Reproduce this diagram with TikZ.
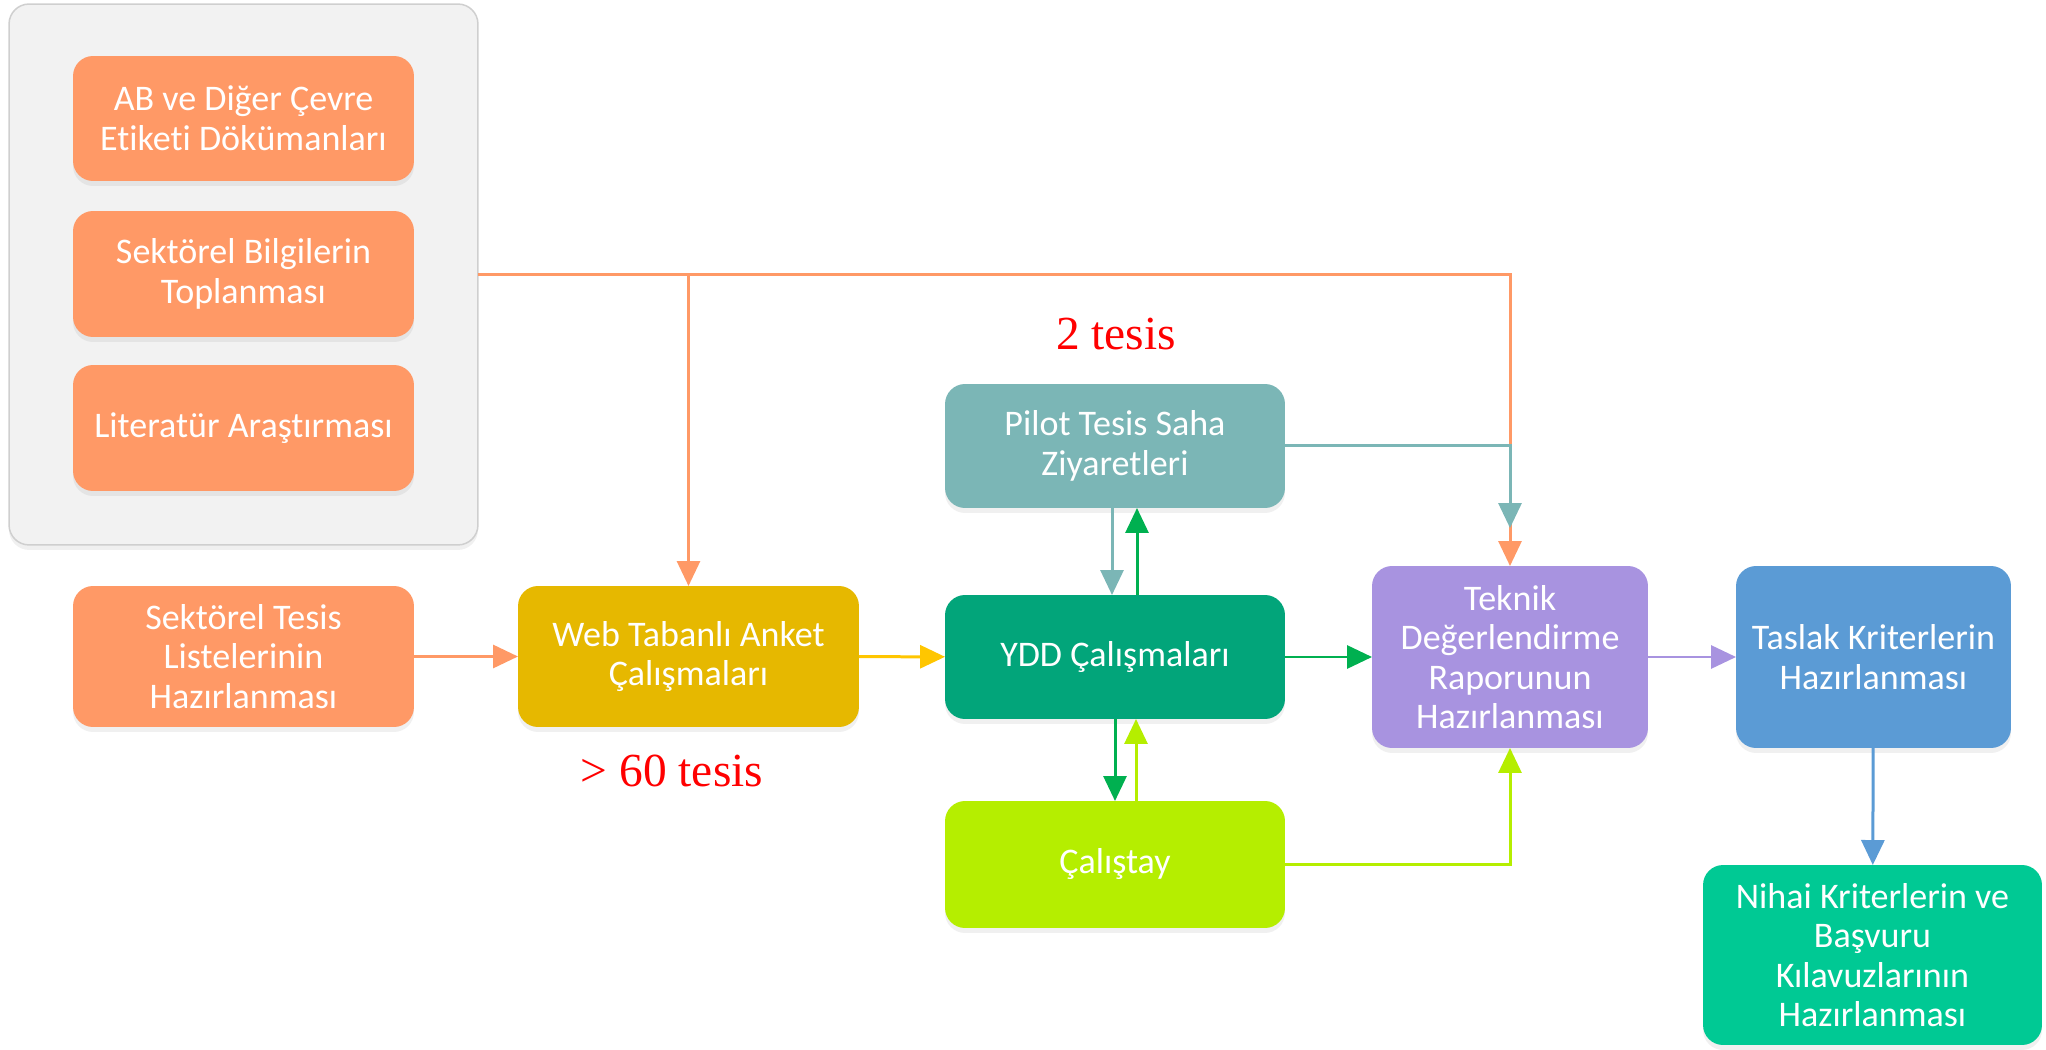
\documentclass[tikz,border=0pt]{standalone}
\usepackage{fontspec}
\setmainfont{Carlito}[Ligatures=NoCommon]
\newfontfamily\notefont{Liberation Serif}
\usetikzlibrary{arrows.meta,calc,shadows}
\definecolor{Panel}{HTML}{F2F2F2}
\definecolor{PanelEdge}{HTML}{CFCFCF}
\definecolor{Peach}{HTML}{FF9966}
\definecolor{Gold}{HTML}{E6B800}
\definecolor{Amber}{HTML}{FFC600}
\definecolor{Teal}{HTML}{7BB6B6}
\definecolor{Jade}{HTML}{02A57A}
\definecolor{Leaf}{HTML}{00B050}
\definecolor{Lime}{HTML}{B5EE00}
\definecolor{Lavender}{HTML}{A893E0}
\definecolor{Sky}{HTML}{5B9BD5}
\definecolor{Mint}{HTML}{00C994}

\begin{document}
\begin{tikzpicture}[x=0.02cm,y=-0.02cm,
    task/.style={rounded corners=0.4cm, text=white, align=center, inner sep=0pt, outer sep=0pt,
      font=\fontsize{20.5}{22.5}\selectfont,
      drop shadow={shadow xshift=0pt,shadow yshift=-0.1cm,opacity=0.12}},
    link/.style={line width=0.06cm, -{Triangle[width=0.46cm,length=0.5cm]}},
    note/.style={text=red, font=\notefont\fontsize{27}{30}\selectfont}]
  \useasboundingbox (0,0) rectangle (2046,1050);

  % grey panel with the three source tasks
  \node[fill=Panel, draw=PanelEdge, line width=0.03cm, rounded corners=0.4cm, outer sep=0pt,
    minimum width=9.38cm, minimum height=10.82cm,
    drop shadow={shadow xshift=0pt,shadow yshift=-0.1cm,opacity=0.12}] (cont) at (243.5,274.5) {};
  \node[task, fill=Peach, minimum width=6.82cm, minimum height=2.5cm] (ab) at (243.5,118.5)
    {AB ve Diğer Çevre\\Etiketi Dökümanları};
  \node[task, fill=Peach, minimum width=6.82cm, minimum height=2.52cm] (bilgi) at (243.5,274)
    {Sektörel Bilgilerin\\Toplanması};
  \node[task, fill=Peach, minimum width=6.82cm, minimum height=2.52cm] (lit) at (243.5,428)
    {Literatür Araştırması};

  % main row
  \node[task, fill=Peach, minimum width=6.82cm, minimum height=2.82cm] (liste) at (243.5,656.5)
    {Sektörel Tesis\\Listelerinin\\Hazırlanması};
  \node[task, fill=Gold, minimum width=6.82cm, minimum height=2.82cm] (web) at (688.5,656.5)
    {Web Tabanlı Anket\\Çalışmaları};
  \node[task, fill=Teal, minimum width=6.8cm, minimum height=2.48cm] (pilot) at (1115,446)
    {Pilot Tesis Saha\\Ziyaretleri};
  \node[task, fill=Jade, minimum width=6.8cm, minimum height=2.48cm] (ydd) at (1115,657)
    {YDD Çalışmaları};
  \node[task, fill=Lime, minimum width=6.8cm, minimum height=2.54cm] (calis) at (1115,864.5)
    {Çalıştay};
  \node[task, fill=Lavender, minimum width=5.52cm, minimum height=3.64cm] (teknik) at (1510,657)
    {Teknik\\Değerlendirme\\Raporunun\\Hazırlanması};
  \node[task, fill=Sky, minimum width=5.5cm, minimum height=3.64cm] (taslak) at (1873.5,657)
    {Taslak Kriterlerin\\Hazırlanması};
  \node[task, fill=Mint, minimum width=6.78cm, minimum height=3.6cm] (nihai) at (1872.5,955)
    {Nihai Kriterlerin ve\\Başvuru\\Kılavuzlarının\\Hazırlanması};

  % facility counts
  \node[note] (pilotnum) at (1116,334) {2 tesis};
  \node[note] (webnum) at (672,771) {\textgreater{} 60 tesis};

  % connectors
  \draw[link, Peach] (cont.east) -| (teknik.north);
  \draw[link, Peach] (web.north |- cont.east) -- (web.north);
  \draw[link, Teal, shorten >=0.76cm] (pilot.east) -| (teknik.north);
  \draw[link, Teal] ([xshift=-0.06cm]pilot.south) -- ([xshift=-0.06cm]ydd.north);
  \draw[link, Leaf] ([xshift=0.44cm]ydd.north) -- ([xshift=0.44cm]pilot.south);
  \draw[link, Leaf] (ydd.south) -- (calis.north);
  \draw[link, Lime] ([xshift=0.42cm]calis.north) -- ([xshift=0.42cm]ydd.south);
  \draw[link, Lime] (calis.east) -| (teknik.south);
  \draw[link, Peach] (liste) -- (web);
  \draw[link, Amber] (web) -- (ydd);
  \draw[link, Leaf] (ydd) -- (teknik);
  \draw[link, Lavender] (teknik) -- (taslak);
  \draw[link, Sky] (taslak) -- (nihai);
\end{tikzpicture}
\end{document}
